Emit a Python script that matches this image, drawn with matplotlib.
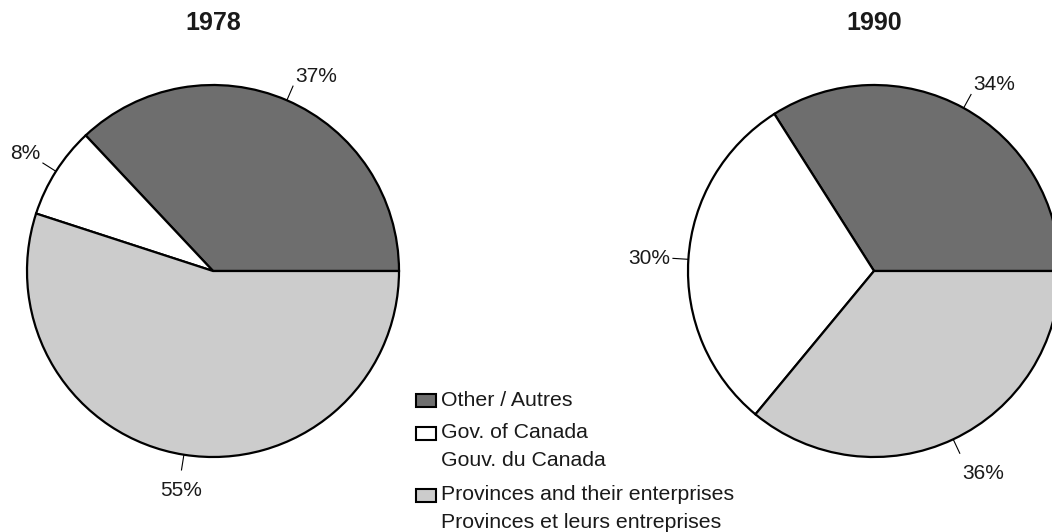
import numpy as np
import matplotlib
matplotlib.use("Agg")
import matplotlib.pyplot as plt
from matplotlib.patches import Rectangle

plt.rcParams['font.family'] = ['Liberation Sans', 'DejaVu Sans']

# data
years = ['1978', '1990']
other = [37, 34]
gov_canada = [8, 30]
provinces = [55, 36]

categories = ['Other / Autres',
              'Gov. of Canada\nGouv. du Canada',
              'Provinces and their enterprises\nProvinces et leurs entreprises']
colors = ['#6e6e6e', '#ffffff', '#cccccc']
text_color = '#1a1a1a'

W, H = 1052, 532
R = 186          # pie radius in pixels
LIM = 1.4


def pie_axes(fig, cx, cy):
    half = LIM * R
    ax = fig.add_axes([(cx - half) / W, (H - cy - half) / H, 2 * half / W, 2 * half / H])
    return ax


def draw_pie(ax, values, title, title_y):
    wedges, _ = ax.pie(values, colors=colors, startangle=0, counterclock=True, radius=1.0,
                       wedgeprops=dict(edgecolor='black', linewidth=1.6))
    # pie() resets the limits, so fix them afterwards
    ax.set_xlim(-LIM, LIM)
    ax.set_ylim(-LIM, LIM)
    ax.set_aspect('equal')
    ax.axis('off')
    for w, v in zip(wedges, values):
        ang = np.deg2rad((w.theta1 + w.theta2) / 2)
        c, s = np.cos(ang), np.sin(ang)
        r_end = 1.086
        ax.plot([c * 1.0, c * r_end], [s * 1.0, s * r_end], color='black', lw=0.8,
                clip_on=False, solid_capstyle='butt')
        ha = 'left' if c > 0.3 else ('right' if c < -0.3 else 'center')
        va = 'bottom' if s > 0.3 else ('top' if s < -0.3 else 'center')
        dx = 0.01 if ha == 'left' else (-0.01 if ha == 'right' else 0)
        dy = -0.055 if va == 'top' else 0
        ax.text(c * r_end + dx, s * r_end + dy, f'{v}%', ha=ha, va=va, fontsize=15,
                color=text_color, clip_on=False)
    ax.text(0, title_y, title, ha='center', va='center', fontsize=18,
            fontweight='bold', color=text_color, clip_on=False)


fig = plt.figure(figsize=(W / 100, H / 100), dpi=100)

centers = [(213, 271), (874, 271)]
for i, (cx, cy) in enumerate(centers):
    ax = pie_axes(fig, cx, cy)
    vals = [other[i], gov_canada[i], provinces[i]]
    # title at ~23 px from top
    title_y = (cy - 23) / R
    draw_pie(ax, vals, years[i], title_y)

# manual legend, handle aligned with the first line of each label
entry_y = [400, 433, 495]
line_gap = 27
for y0, lab, col in zip(entry_y, categories, colors):
    fig.patches.append(Rectangle((416 / W, (H - y0 - 6.5) / H), 20 / W, 13 / H,
                                 transform=fig.transFigure, facecolor=col,
                                 edgecolor='black', linewidth=1.5))
    for j, line in enumerate(lab.split('\n')):
        fig.text(441 / W, (H - y0 - j * line_gap) / H, line, ha='left', va='center',
                 fontsize=15.3, color=text_color)

fig.savefig('out.png', dpi=100)
